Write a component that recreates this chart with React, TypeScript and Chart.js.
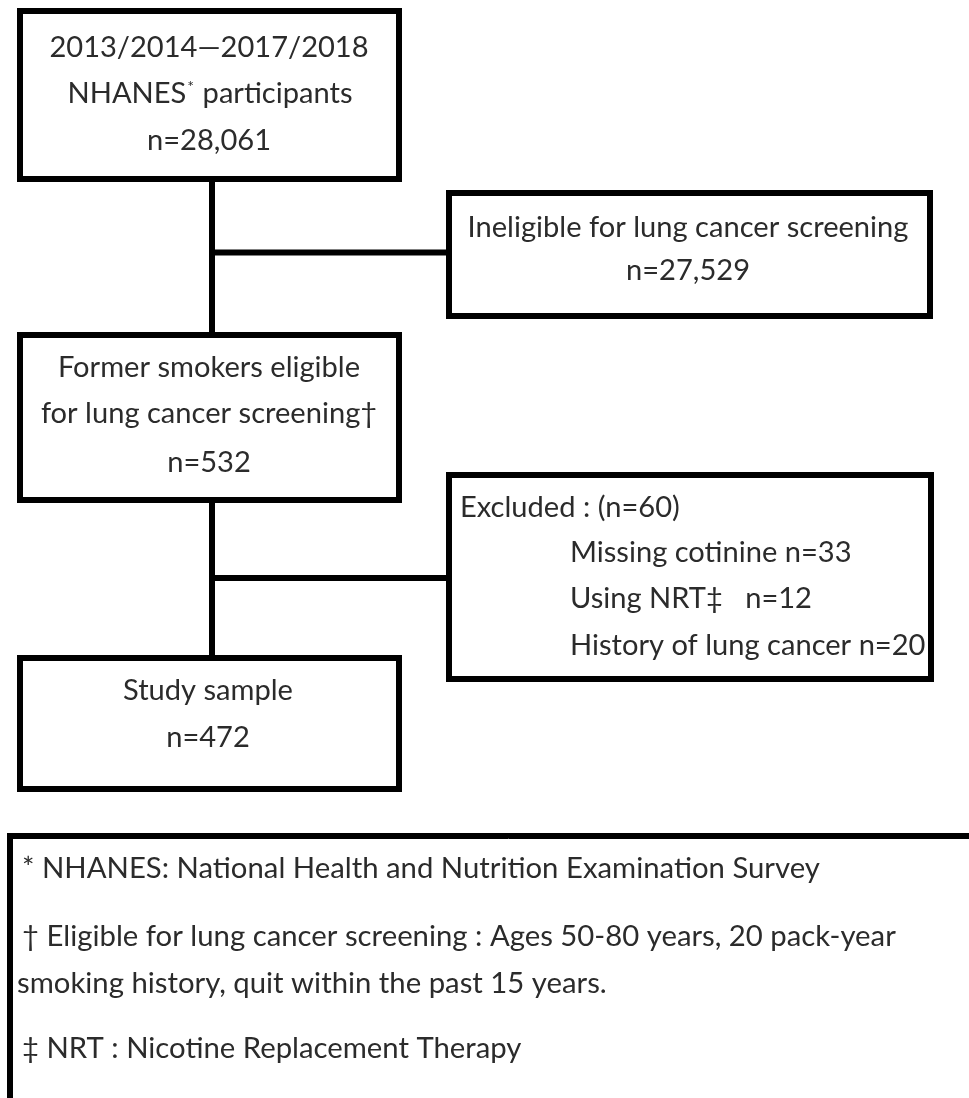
import { useEffect, useRef } from "react";
import { Chart, registerables } from "chart.js";

Chart.register(...registerables);

// ---------------- data ----------------
const stageLabels: string[][] = [
  ["2013/2014—2017/2018", "NHANES* participants"],
  ["Ineligible for lung cancer screening"],
  ["Former smokers eligible", "for lung cancer screening†"],
  ["Study sample"],
];
const stageCounts: number[] = [28061, 27529, 532, 472];

const excludedTitle = "Excluded :";
const excludedTotal = 60;
const exclusionReasons: string[] = ["Missing cotinine", "Using NRT‡  ", "History of lung cancer"];
const exclusionCounts: number[] = [33, 12, 20];

const footnoteLines: string[] = [
  "* NHANES: National Health and Nutrition Examination Survey",
  "† Eligible for lung cancer screening : Ages 50-80 years, 20 pack-year",
  "smoking history, quit within the past 15 years.",
  "‡ NRT : Nicotine Replacement Therapy",
];

// ---------------- layout / style ----------------
const W = 969;
const H = 1098;
const BORDER = 6;
const LINE_COLOR = "#000000";
const TEXT_COLOR = "#2b2b2b";
const FONT = "Lato, 'Open Sans', sans-serif";
const BOX_REF_WIDTH = 441; // width of the "Ineligible..." line
const FOOT_REF_WIDTH = 798; // width of the first footnote line

type Box = { x0: number; x1: number; y0: number; y1: number };

const stageBoxes: (Box & { cx: number; baselines: number[] })[] = [
  { x0: 17, x1: 402, y0: 8, y1: 182, cx: 209, baselines: [57, 103, 150] },
  { x0: 446, x1: 933, y0: 190, y1: 319, cx: 688, baselines: [237, 280] },
  { x0: 17, x1: 402, y0: 332, y1: 503, cx: 209, baselines: [377, 423, 472] },
  { x0: 17, x1: 402, y0: 655, y1: 792, cx: 208, baselines: [700, 747] },
];
const excludedBox = { x0: 446, x1: 934, y0: 472, y1: 682, titleX: 460, itemX: 570, baselines: [517, 562, 608, 655] };
const footnoteBox = { x0: 7, x1: 1010, y0: 833, y1: 1140, xs: [22, 22, 17, 22], baselines: [878, 946, 993, 1058] };
const spineX = 212;
const connectors: number[][][] = [
  [[spineX, 182], [spineX, 332]],
  [[spineX, 252.5], [446, 252.5]],
  [[spineX, 503], [spineX, 655]],
  [[spineX, 578], [446, 578]],
];

const fmt = (n: number) => n.toLocaleString("en-US");

function rectPath(b: Box) {
  const h = BORDER / 2;
  const l = b.x0 + h, r = b.x1 - h, t = b.y0 + h, bt = b.y1 - h, m = (l + r) / 2;
  return [
    { x: m, y: t },
    { x: r, y: t },
    { x: r, y: bt },
    { x: l, y: bt },
    { x: l, y: t },
    { x: m, y: t },
  ];
}

function lineDataset(data: { x: number; y: number }[]) {
  return {
    data,
    showLine: true,
    borderColor: LINE_COLOR,
    backgroundColor: LINE_COLOR,
    borderWidth: BORDER,
    pointRadius: 0,
    pointHoverRadius: 0,
    fill: false,
    tension: 0,
    clip: false as any,
    borderJoinStyle: "miter" as const,
    borderCapStyle: "butt" as const,
  };
}

// draw text where "*" is rendered as a small superscript (box labels only)
function drawRich(ctx: CanvasRenderingContext2D, text: string, x: number, y: number, size: number, align: "center" | "left", sup: boolean) {
  const parts = sup ? text.split(/(\*)/).filter((p) => p.length) : [text];
  const supSize = size * 0.55;
  const widths = parts.map((p) => {
    ctx.font = `${p === "*" && sup ? supSize : size}px ${FONT}`;
    return ctx.measureText(p).width;
  });
  const total = widths.reduce((a, b) => a + b, 0);
  let cx = align === "center" ? x - total / 2 : x;
  ctx.textAlign = "left";
  ctx.textBaseline = "alphabetic";
  parts.forEach((p, i) => {
    if (p === "*" && sup) {
      ctx.font = `${supSize}px ${FONT}`;
      ctx.fillText(p, cx + 1, y - size * 0.38);
    } else {
      ctx.font = `${size}px ${FONT}`;
      ctx.fillText(p, cx, y);
    }
    cx += widths[i] + (p === "*" && sup ? 2 : 0);
  });
}

const textPlugin = {
  id: "flowText",
  afterDatasetsDraw(chart: any) {
    const { ctx, scales } = chart;
    const px = (v: number) => scales.x.getPixelForValue(v);
    const py = (v: number) => scales.y.getPixelForValue(v);
    ctx.save();
    ctx.fillStyle = TEXT_COLOR;
    ctx.font = `100px ${FONT}`;
    const boxSize = (100 * BOX_REF_WIDTH) / ctx.measureText(stageLabels[1][0]).width;
    const footSize = (100 * FOOT_REF_WIDTH) / ctx.measureText(footnoteLines[0]).width;

    stageBoxes.forEach((b, i) => {
      const lines = [...stageLabels[i], `n=${fmt(stageCounts[i])}`];
      lines.forEach((ln, j) => drawRich(ctx, ln, px(b.cx), py(b.baselines[j]), boxSize, "center", true));
    });

    const ex = excludedBox;
    drawRich(ctx, `${excludedTitle} (n=${excludedTotal})`, px(ex.titleX), py(ex.baselines[0]), boxSize, "left", false);
    exclusionReasons.forEach((r, i) => {
      drawRich(ctx, `${r} n=${exclusionCounts[i]}`, px(ex.itemX), py(ex.baselines[i + 1]), boxSize, "left", false);
    });

    footnoteLines.forEach((ln, i) => {
      drawRich(ctx, ln, px(footnoteBox.xs[i]), py(footnoteBox.baselines[i]), footSize, "left", false);
    });
    ctx.restore();
  },
};

export default function App() {
  const ref = useRef<HTMLCanvasElement | null>(null);
  useEffect(() => {
    if (!ref.current) return;
    const datasets = [
      ...stageBoxes.map((b) => lineDataset(rectPath(b))),
      lineDataset(rectPath(excludedBox)),
      lineDataset(rectPath(footnoteBox)),
      ...connectors.map((c) => lineDataset(c.map(([x, y]) => ({ x, y })))),
    ];
    const chart = new Chart(ref.current, {
      type: "scatter",
      data: { datasets: datasets as any },
      options: {
        animation: false,
        responsive: false,
        events: [],
        layout: { padding: 0 },
        plugins: { legend: { display: false }, tooltip: { enabled: false } },
        scales: {
          x: { type: "linear", min: 0, max: W, display: false },
          y: { type: "linear", min: 0, max: H, reverse: true, display: false },
        },
      },
      plugins: [textPlugin],
    });
    return () => chart.destroy();
  }, []);
  return (
    <div style={{ position: "absolute", left: 0, top: 0, width: W, height: H, background: "#ffffff", overflow: "hidden" }}>
      <canvas ref={ref} width={W} height={H} style={{ display: "block" }} />
    </div>
  );
}
